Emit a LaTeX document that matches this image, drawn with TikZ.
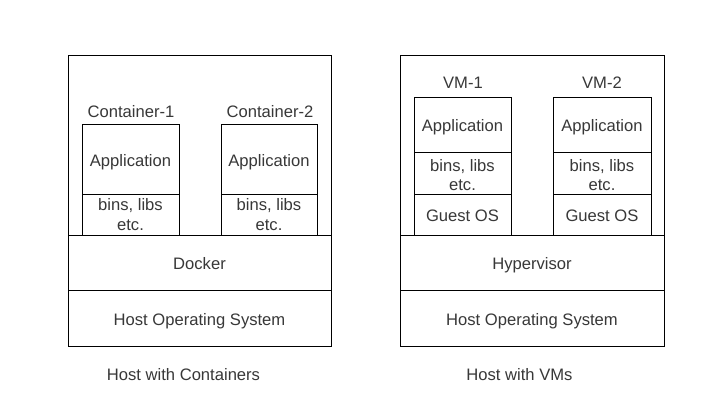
\documentclass[tikz,border=0pt]{standalone}
\usepackage{fontspec}
\setmainfont{Liberation Sans}
\definecolor{txt}{HTML}{383838}
\newcommand\twoline[3][6]{\raisebox{-#1pt}[10pt][10pt]{\begin{tabular}{@{}c@{}}#2\\[1pt]#3\end{tabular}}}
\begin{document}
\begin{tikzpicture}[x=1pt,y=-1pt,
  blk/.style={draw=black,line width=0.9pt,inner sep=0pt,outer sep=0pt,
    text=txt,font=\fontsize{16.6}{18.5}\selectfont,
    text height=14.5pt,text depth=0pt},
  two/.style={text height={},text depth={}},
  lbl/.style={text=txt,font=\fontsize{16.6}{18.5}\selectfont,inner sep=0pt}]
\useasboundingbox[fill=white] (0,0) rectangle (720,406);
% left host
\node[blk,minimum width=263pt,minimum height=291pt] (lhost) at (199.5,200.5) {};
\node[blk,minimum width=263pt,minimum height=55pt] (docker) at (199.5,262.5) {Docker};
\node[blk,minimum width=263pt,minimum height=56pt] (lhos) at (199.5,318) {Host Operating System};
\node[blk,minimum width=97pt,minimum height=70pt] (c1app) at (130.5,159) {Application};
\node[blk,two,minimum width=97pt,minimum height=41pt] (c1bins) at (130.5,214.5) {\twoline[6.8]{bins, libs}{etc.}};
\node[blk,minimum width=96pt,minimum height=70pt] (c2app) at (269,159) {Application};
\node[blk,two,minimum width=96pt,minimum height=41pt] (c2bins) at (269,214.5) {\twoline[6.8]{bins, libs}{etc.}};
\node[lbl] (c1lbl) at (131,112) {Container-1};
\node[lbl] (c2lbl) at (270,112) {Container-2};
% right host
\node[blk,minimum width=264pt,minimum height=291pt] (rhost) at (532,200.5) {};
\node[blk,minimum width=264pt,minimum height=55pt] (hyp) at (532,262.5) {Hypervisor};
\node[blk,minimum width=264pt,minimum height=56pt] (rhos) at (532,318) {Host Operating System};
\node[blk,minimum width=97pt,minimum height=55pt] (v1app) at (462.5,124.5) {Application};
\node[blk,two,minimum width=97pt,minimum height=42pt] (v1bins) at (462.5,173) {\twoline[8.8]{bins, libs}{etc.}};
\node[blk,minimum width=97pt,minimum height=41pt] (v1os) at (462.5,214.5) {Guest OS};
\node[blk,minimum width=98pt,minimum height=55pt] (v2app) at (602,124.5) {Application};
\node[blk,two,minimum width=98pt,minimum height=42pt] (v2bins) at (602,173) {\twoline[8.8]{bins, libs}{etc.}};
\node[blk,minimum width=98pt,minimum height=41pt] (v2os) at (602,214.5) {Guest OS};
\node[lbl] (v1lbl) at (463,83) {VM-1};
\node[lbl] (v2lbl) at (602,83) {VM-2};
% captions
\node[lbl] (lcap) at (183.5,375) {Host with Containers};
\node[lbl] (rcap) at (519.5,375) {Host with VMs};
\end{tikzpicture}
\end{document}
